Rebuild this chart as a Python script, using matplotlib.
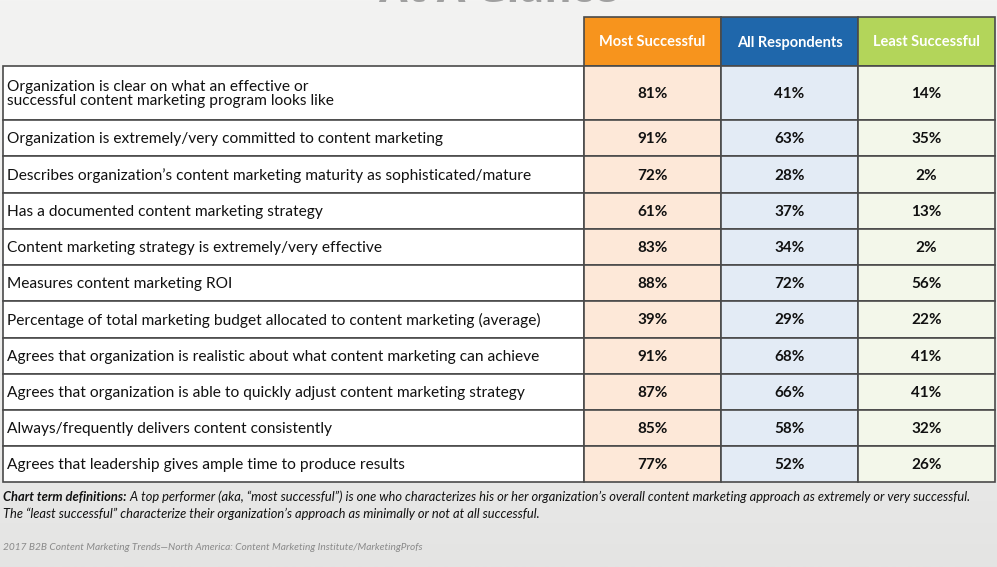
import matplotlib
matplotlib.use("Agg")
import matplotlib.pyplot as plt
from matplotlib.patches import Rectangle
from matplotlib.colors import LinearSegmentedColormap
import numpy as np

title = "At A Glance"
columns = ["Most Successful", "All Respondents", "Least Successful"]
labels = [
    "Organization is clear on what an effective or\nsuccessful content marketing program looks like",
    "Organization is extremely/very committed to content marketing",
    "Describes organization\u2019s content marketing maturity as sophisticated/mature",
    "Has a documented content marketing strategy",
    "Content marketing strategy is extremely/very effective",
    "Measures content marketing ROI",
    "Percentage of total marketing budget allocated to content marketing (average)",
    "Agrees that organization is realistic about what content marketing can achieve",
    "Agrees that organization is able to quickly adjust content marketing strategy",
    "Always/frequently delivers content consistently",
    "Agrees that leadership gives ample time to produce results",
]
most_successful = [81, 91, 72, 61, 83, 88, 39, 91, 87, 85, 77]
all_respondents = [41, 63, 28, 37, 34, 72, 29, 68, 66, 58, 52]
least_successful = [14, 35, 2, 13, 2, 56, 22, 41, 41, 32, 26]

note_bold = "Chart term definitions:"
note_line1 = " A top performer (aka, \u201cmost successful\u201d) is one who characterizes his or her organization\u2019s overall content marketing approach as extremely or very successful."
note_line2 = "The \u201cleast successful\u201d characterize their organization\u2019s approach as minimally or not at all successful."
source = "2017 B2B Content Marketing Trends\u2014North America: Content Marketing Institute/MarketingProfs"

header_colors = ["#f7941d", "#1f67ab", "#b3d55a"]
cell_colors = ["#fde8d8", "#e3ebf5", "#f3f7ea"]

W, H = 997, 567
fig = plt.figure(figsize=(W / 100, H / 100), dpi=100)
bg = fig.add_axes([0, 0, 1, 1])
grad = np.linspace(0, 1, 256).reshape(-1, 1)
cmap = LinearSegmentedColormap.from_list("bg", ["#f3f3f2", "#f1f1f0", "#e4e4e3"])
bg.imshow(grad, aspect="auto", cmap=cmap, extent=[0, 1, 1, 0])
bg.set_axis_off()

ax = fig.add_axes([0, 0, 1, 1])
ax.set_xlim(0, W)
ax.set_ylim(H, 0)
ax.set_axis_off()
ax.patch.set_alpha(0)

font = "Lato"

# title (mostly cut off at the top edge, as in the reference)
ax.text(498, 1.5, title, ha="center", va="baseline", fontsize=30, color="#a0a0a0",
        family="Open Sans", fontweight="bold")

col_x = [584, 721, 858, 995]
left = 3
header_top, header_bot = 17, 66
row_edges = [66, 120, 156, 193, 229, 265, 301, 338, 374, 410, 446, 482]
edge = "#4a4a4a"

for j, name in enumerate(columns):
    ax.add_patch(Rectangle((col_x[j], header_top), col_x[j + 1] - col_x[j],
                           header_bot - header_top, facecolor=header_colors[j],
                           edgecolor=edge, lw=1.2))
    ax.text((col_x[j] + col_x[j + 1]) / 2, (header_top + header_bot) / 2 + 1, name,
            ha="center", va="center", color="white", fontsize=10.5,
            fontweight="bold", family=font)

series = [most_successful, all_respondents, least_successful]
for i, lab in enumerate(labels):
    y0, y1 = row_edges[i], row_edges[i + 1]
    ax.add_patch(Rectangle((left, y0), col_x[0] - left, y1 - y0,
                           facecolor="white", edgecolor=edge, lw=1.2))
    ax.text(left + 4, (y0 + y1) / 2 + 1, lab, ha="left", va="center",
            fontsize=11.2, family=font, color="#111111", linespacing=0.95)
    for j in range(3):
        ax.add_patch(Rectangle((col_x[j], y0), col_x[j + 1] - col_x[j], y1 - y0,
                               facecolor=cell_colors[j], edgecolor=edge, lw=1.2))
        ax.text((col_x[j] + col_x[j + 1]) / 2, (y0 + y1) / 2 + 1,
                f"{series[j][i]}%", ha="center", va="center", fontsize=11,
                fontweight="bold", family=font, color="#111111")

# footnote, sized so the first line spans like the reference
fig.canvas.draw()
r = fig.canvas.get_renderer()

def width_px(t):
    return t.get_window_extent(renderer=r).width

fs = 9.0
tb = ax.text(3, 497, note_bold, ha="left", va="center", fontsize=fs,
             fontweight="bold", fontstyle="italic", family=font, color="#111111")
tr = ax.text(0, 497, note_line1, ha="left", va="center", fontsize=fs,
             fontstyle="italic", family=font, color="#111111")
total = width_px(tb) + width_px(tr)
fs = fs * 969 / total
tb.set_fontsize(fs)
tr.set_fontsize(fs)
tr.set_x(3 + width_px(tb))
ax.text(3, 514, note_line2, ha="left", va="center", fontsize=fs,
        fontstyle="italic", family=font, color="#111111")
ax.text(3, 548, source, ha="left", va="center", fontsize=fs * 0.78,
        fontstyle="italic", family=font, color="#8a8a8a")

fig.savefig("out.png", dpi=100)
